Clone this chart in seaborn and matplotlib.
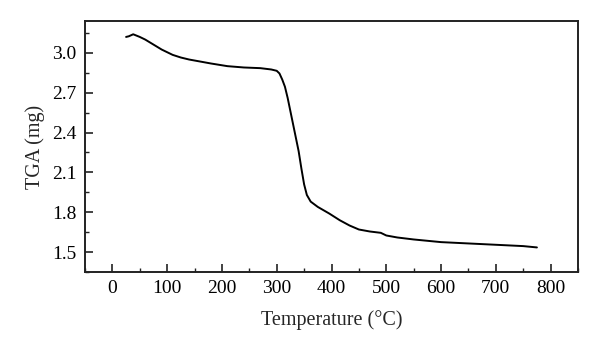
import matplotlib
matplotlib.use("Agg")
import matplotlib.pyplot as plt
import seaborn as sns
import pandas as pd
from matplotlib.ticker import MultipleLocator

temperature = [25, 30, 38, 50, 60, 70, 80, 90, 100, 110, 125, 140, 160, 180, 210, 240,
               270, 290, 300, 305, 310, 315, 320, 330, 340, 345, 350, 355, 362, 375,
               396, 415, 433, 450, 470, 490, 500, 520, 550, 600, 650, 700, 750, 775]
tga = [3.12, 3.125, 3.14, 3.12, 3.10, 3.075, 3.05, 3.025, 3.005, 2.985, 2.965, 2.95,
       2.935, 2.92, 2.90, 2.89, 2.885, 2.875, 2.865, 2.845, 2.80, 2.745, 2.66, 2.46,
       2.26, 2.13, 2.01, 1.93, 1.88, 1.84, 1.79, 1.74, 1.70, 1.67, 1.655, 1.645, 1.625,
       1.61, 1.595, 1.575, 1.565, 1.555, 1.545, 1.535]
x_ticks = [0, 100, 200, 300, 400, 500, 600, 700, 800]
y_ticks = [1.5, 1.8, 2.1, 2.4, 2.7, 3.0]

sns.set_style("ticks")
plt.rcParams['font.family'] = ['Liberation Serif', 'DejaVu Serif']

df = pd.DataFrame({"Temperature": temperature, "TGA": tga})

fig = plt.figure(figsize=(6.0, 3.56), dpi=100)
ax = fig.add_axes([85/600, 84/356, (578-85)/600, (272-21)/356])
sns.lineplot(data=df, x="Temperature", y="TGA", ax=ax, color="black", linewidth=1.4)

ax.set_xlim(-50, 850)
ax.set_ylim(1.35, 3.24)
ax.set_xticks(x_ticks)
ax.set_xticklabels([str(v) for v in x_ticks])
ax.set_yticks(y_ticks)
ax.set_yticklabels([f"{v:.1f}" for v in y_ticks])
ax.xaxis.set_minor_locator(MultipleLocator(50))
ax.yaxis.set_minor_locator(MultipleLocator(0.15))
ax.tick_params(which='major', direction='in', length=6, width=1.2, labelsize=14,
               top=False, right=False, colors='#222222', labelcolor='black', pad=6)
ax.tick_params(which='minor', direction='in', length=3, width=1.0,
               top=False, right=False, colors='#222222')
for s in ax.spines.values():
    s.set_visible(True)
    s.set_linewidth(1.4)
    s.set_color('#222222')

ax.set_xlabel("Temperature (°C)", fontsize=14.5, labelpad=9)
ax.set_ylabel("TGA (mg)", fontsize=14.5, labelpad=5)

fig.savefig("out.png", dpi=100)
